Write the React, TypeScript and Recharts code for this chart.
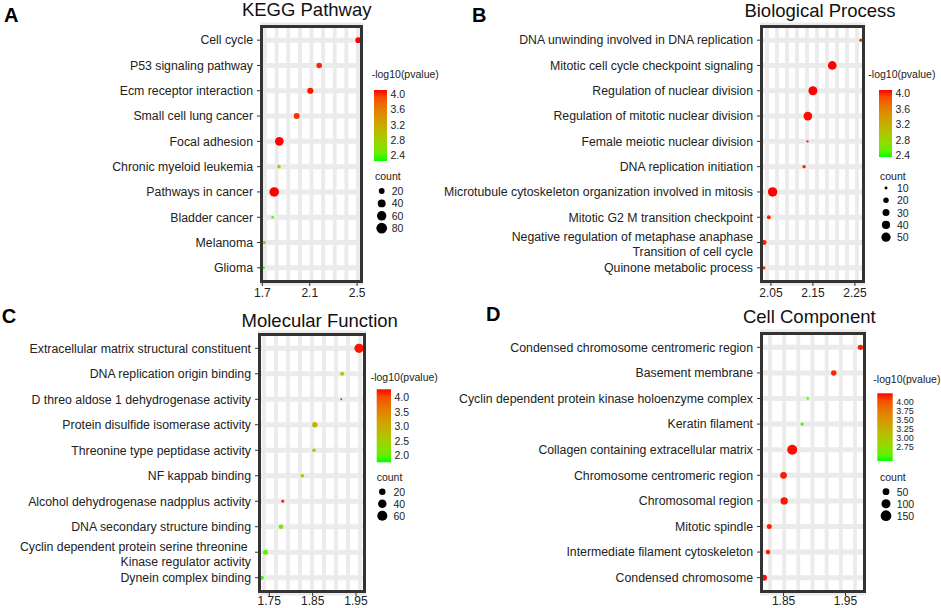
import { CartesianGrid, Scatter, ScatterChart, XAxis, YAxis } from 'recharts';

// ---------- data ----------
const keggTerms = [
    'Cell cycle',
    'P53 signaling pathway',
    'Ecm receptor interaction',
    'Small cell lung cancer',
    'Focal adhesion',
    'Chronic myeloid leukemia',
    'Pathways in cancer',
    'Bladder cancer',
    'Melanoma',
    'Glioma',
];
const keggScore = [2.51, 2.18, 2.105, 1.99, 1.843, 1.84, 1.8, 1.787, 1.716, 1.71];
const keggCount = [20, 18, 23, 21, 49, 7, 62, 4, 7, 5];
const keggLogP = [4.1, 4.05, 4.08, 4.02, 4.1, 2.75, 4.1, 2.35, 2.55, 2.4];
const keggXTicks = [1.7, 2.1, 2.5];
const keggColorTicks = [4.0, 3.6, 3.2, 2.8, 2.4];
const keggSizeBreaks = [20, 40, 60, 80];

const bpTerms = [
    'DNA unwinding involved in DNA replication',
    'Mitotic cell cycle checkpoint signaling',
    'Regulation of nuclear division',
    'Regulation of mitotic nuclear division',
    'Female meiotic nuclear division',
    'DNA replication initiation',
    'Microtubule cytoskeleton organization involved in mitosis',
    'Mitotic G2 M transition checkpoint',
    'Negative regulation of metaphase anaphase\nTransition of cell cycle',
    'Quinone metabolic process',
];
const bpScore = [2.264, 2.196, 2.15, 2.138, 2.137, 2.129, 2.054, 2.045, 2.034, 2.033];
const bpCount = [10, 45, 48, 45, 9, 11, 52, 13, 17, 11];
const bpLogP = [4.06, 4.09, 4.09, 4.08, 4.05, 4.06, 4.09, 4.05, 4.05, 4.04];
const bpXTicks = [2.05, 2.15, 2.25];
const bpColorTicks = [4.0, 3.6, 3.2, 2.8, 2.4];
const bpSizeBreaks = [10, 20, 30, 40, 50];

const mfTerms = [
    'Extracellular matrix structural constituent',
    'DNA replication origin binding',
    'D threo aldose 1 dehydrogenase activity',
    'Protein disulfide isomerase activity',
    'Threonine type peptidase activity',
    'NF kappab binding',
    'Alcohol dehydrogenase nadpplus activity',
    'DNA secondary structure binding',
    'Cyclin dependent protein serine threonine \nKinase regulator activity',
    'Dynein complex binding',
];
const mfScore = [1.957, 1.918, 1.916, 1.855, 1.853, 1.826, 1.781, 1.777, 1.741, 1.733];
const mfCount = [50, 5, 1, 12, 4, 4, 2, 8, 10, 5];
const mfLogP = [4.25, 2.5, 4.25, 2.95, 2.6, 2.55, 4.25, 2.15, 1.95, 1.8];
const mfXTicks = [1.75, 1.85, 1.95];
const mfColorTicks = [4.0, 3.5, 3.0, 2.5, 2.0];
const mfSizeBreaks = [20, 40, 60];

const ccTerms = [
    'Condensed chromosome centromeric region',
    'Basement membrane',
    'Cyclin dependent protein kinase holoenzyme complex',
    'Keratin filament',
    'Collagen containing extracellular matrix',
    'Chromosome centromeric region',
    'Chromosomal region',
    'Mitotic spindle',
    'Intermediate filament cytoskeleton',
    'Condensed chromosome',
];
const ccScore = [1.974, 1.931, 1.889, 1.88, 1.864, 1.85, 1.851, 1.827, 1.825, 1.8185];
const ccCount = [26, 28, 4, 7, 128, 47, 59, 22, 19, 36];
const ccLogP = [4.2, 4.18, 2.5, 2.45, 4.22, 4.2, 4.21, 4.2, 4.18, 4.22];
const ccXTicks = [1.85, 1.95];
const ccColorTicks = [4.0, 3.75, 3.5, 3.25, 3.0, 2.75];
const ccSizeBreaks = [50, 100, 150];

// ---------- colour / size scales (ggplot-like) ----------
const FONT = '"Liberation Sans", Arial, Helvetica, sans-serif';
const WHITE = [0.95047, 1, 1.08883];

const toLinear = (c: number) => {
    const v = c / 255;
    return v <= 0.04045 ? v / 12.92 : Math.pow((v + 0.055) / 1.055, 2.4);
};
const fromLinear = (c: number) => {
    const v = c <= 0.0031308 ? 12.92 * c : 1.055 * Math.pow(c, 1 / 2.4) - 0.055;
    return Math.round(Math.min(1, Math.max(0, v)) * 255);
};

function toLab([r, g, b]: number[]) {
    const R = toLinear(r), G = toLinear(g), B = toLinear(b);
    const X = 0.4124 * R + 0.3576 * G + 0.1805 * B;
    const Y = 0.2126 * R + 0.7152 * G + 0.0722 * B;
    const Z = 0.0193 * R + 0.1192 * G + 0.9505 * B;
    const f = (t: number) => (t > 216 / 24389 ? Math.cbrt(t) : ((24389 / 27) * t + 16) / 116);
    const fx = f(X / WHITE[0]), fy = f(Y / WHITE[1]), fz = f(Z / WHITE[2]);
    return [116 * fy - 16, 500 * (fx - fy), 200 * (fy - fz)];
}

function labToCss([L, a, b]: number[]) {
    const fy = (L + 16) / 116;
    const fx = fy + a / 500;
    const fz = fy - b / 200;
    const inv = (t: number) => (t ** 3 > 216 / 24389 ? t ** 3 : (116 * t - 16) / (24389 / 27));
    const X = inv(fx) * WHITE[0], Y = inv(fy) * WHITE[1], Z = inv(fz) * WHITE[2];
    const R = 3.2406 * X - 1.5372 * Y - 0.4986 * Z;
    const G = -0.9689 * X + 1.8758 * Y + 0.0415 * Z;
    const B = 0.0557 * X - 0.204 * Y + 1.057 * Z;
    return `rgb(${fromLinear(R)},${fromLinear(G)},${fromLinear(B)})`;
}

const LOW = toLab([0, 255, 0]);
const HIGH = toLab([255, 0, 0]);

function rampColor(t: number) {
    const k = Math.min(1, Math.max(0, t));
    return labToCss(LOW.map((v, i) => v + (HIGH[i] - v) * k));
}

interface SizeSpec { cmin: number; cmax: number; dmin: number; dk: number }

function radius(count: number, s: SizeSpec) {
    const t = Math.max(0, (count - s.cmin) / (s.cmax - s.cmin));
    return (s.dmin + s.dk * Math.sqrt(t)) / 2;
}

// ---------- panels ----------
interface PanelSpec {
    letter: string;
    title: string;
    terms: string[];
    score: number[];
    count: number[];
    logp: number[];
    xTicks: number[];
    xDigits: number;
    xDomain: [number, number];
    xTickMargin: number;
    colorDomain: [number, number];
    colorTicks: number[];
    colorDigits: number;
    colorFont: number;
    sizeBreaks: number[];
    size: SizeSpec;
    left: number;
    top: number;
    width: number;
    height: number;
    plot: { x0: number; x1: number; y0: number; y1: number };
    stripes: { n: number; inL: number; inR: number };
    letterPos: [number, number];
    titlePos: [number, number];
    legend: {
        titleX: number; titleY: number;
        barX: number; barY: number; barW: number; barH: number;
        countX: number; countY: number;
        dotX: number; dotY: number; dotStep: number; labelX: number;
    };
}

const panels: PanelSpec[] = [
    {
        letter: 'A', title: 'KEGG Pathway',
        terms: keggTerms, score: keggScore, count: keggCount, logp: keggLogP,
        xTicks: keggXTicks, xDigits: 1, xDomain: [1.68, 2.55], xTickMargin: 2,
        colorDomain: [2.25, 4.1], colorTicks: keggColorTicks, colorDigits: 1, colorFont: 10.5,
        sizeBreaks: keggSizeBreaks, size: { cmin: 3, cmax: 80, dmin: 1.5, dk: 9.2 },
        left: 0, top: 0, width: 470, height: 300,
        plot: { x0: 260, x1: 363, y0: 25, y1: 283 },
        stripes: { n: 9, inL: 5, inR: 5 },
        letterPos: [4, 21.7], titlePos: [306.7, 16],
        legend: {
            titleX: 371.7, titleY: 74, barX: 374, barY: 90, barW: 13, barH: 71,
            countX: 375, countY: 175.7, dotX: 381.7, dotY: 191, dotStep: 12.4, labelX: 391.7,
        },
    },
    {
        letter: 'B', title: 'Biological Process',
        terms: bpTerms, score: bpScore, count: bpCount, logp: bpLogP,
        xTicks: bpXTicks, xDigits: 2, xDomain: [2.024, 2.274], xTickMargin: 2,
        colorDomain: [2.35, 4.09], colorTicks: bpColorTicks, colorDigits: 1, colorFont: 10.5,
        sizeBreaks: bpSizeBreaks, size: { cmin: 8, cmax: 52, dmin: 1.2, dk: 8.2 },
        left: 470, top: 0, width: 471, height: 300,
        plot: { x0: 290, x1: 395, y0: 25, y1: 283 },
        stripes: { n: 10, inL: 7, inR: 8 },
        letterPos: [2, 21.7], titlePos: [350, 16.5],
        legend: {
            titleX: 398.3, titleY: 74, barX: 409, barY: 90, barW: 13, barH: 67,
            countX: 410, countY: 176, dotX: 416, dotY: 188, dotStep: 12.3, labelX: 427,
        },
    },
    {
        letter: 'C', title: 'Molecular Function',
        terms: mfTerms, score: mfScore, count: mfCount, logp: mfLogP,
        xTicks: mfXTicks, xDigits: 2, xDomain: [1.724, 1.973], xTickMargin: 0,
        colorDomain: [1.75, 4.28], colorTicks: mfColorTicks, colorDigits: 1, colorFont: 10.5,
        sizeBreaks: mfSizeBreaks, size: { cmin: 1, cmax: 62, dmin: 1.8, dk: 8.4 },
        left: 0, top: 300, width: 470, height: 308,
        plot: { x0: 258, x1: 366, y0: 33, y1: 293 },
        stripes: { n: 9, inL: 6, inR: 6 },
        letterPos: [1.7, 23.3], titlePos: [319.7, 26.7],
        legend: {
            titleX: 370.7, titleY: 76.7, barX: 376.7, barY: 89.3, barW: 14.3, barH: 73,
            countX: 376.7, countY: 177.3, dotX: 382.3, dotY: 191.7, dotStep: 12, labelX: 393.5,
        },
    },
    {
        letter: 'D', title: 'Cell Component',
        terms: ccTerms, score: ccScore, count: ccCount, logp: ccLogP,
        xTicks: ccXTicks, xDigits: 2, xDomain: [1.812, 1.983], xTickMargin: 0,
        colorDomain: [2.38, 4.23], colorTicks: ccColorTicks, colorDigits: 2, colorFont: 9,
        sizeBreaks: ccSizeBreaks, size: { cmin: 3, cmax: 160, dmin: 1.8, dk: 9.2 },
        left: 470, top: 300, width: 471, height: 308,
        plot: { x0: 290, x1: 396, y0: 32, y1: 293 },
        stripes: { n: 7, inL: 10, inR: 11 },
        letterPos: [16, 20.7], titlePos: [339.3, 23.3],
        legend: {
            titleX: 403.3, titleY: 79.3, barX: 407.3, barY: 93.3, barW: 15.4, barH: 67.7,
            countX: 410, countY: 177.3, dotX: 416, dotY: 191.7, dotStep: 12, labelX: 426.7,
        },
    },
];

function TermTick(props: any) {
    const { x, y, payload, terms } = props;
    const lines: string[] = (terms[payload.value - 1] ?? '').split('\n');
    const gap = 14.7;
    // two-line labels sit a touch lower than their row in the original
    const shift = lines.length > 1 ? 1.8 : 0;
    return (
        <text x={x} y={y} textAnchor="end" fill="#222" fontSize={12.3} style={{ whiteSpace: 'pre' }}>
            {lines.map((line, k) => (
                <tspan key={k} x={x} dy={k === 0 ? -((lines.length - 1) / 2) * gap + 4.3 + shift : gap}>
                    {line}
                </tspan>
            ))}
        </text>
    );
}

function PanelLegend({ spec }: { spec: PanelSpec }) {
    const L = spec.legend;
    const [vmin, vmax] = spec.colorDomain;
    const gid = `ramp-${spec.letter}`;
    const stops = Array.from({ length: 11 }, (_, i) => i / 10);
    return (
        <svg
            width={spec.width}
            height={spec.height}
            style={{ position: 'absolute', left: 0, top: 0, overflow: 'visible', pointerEvents: 'none' }}
            fontFamily={FONT}
        >
            <defs>
                <linearGradient id={gid} x1="0" y1="1" x2="0" y2="0">
                    {stops.map((t) => (
                        <stop key={t} offset={t} stopColor={rampColor(t)} />
                    ))}
                </linearGradient>
            </defs>
            <text x={spec.letterPos[0]} y={spec.letterPos[1]} fontSize={20} fontWeight="bold" fill="#000">
                {spec.letter}
            </text>
            <text x={spec.titlePos[0]} y={spec.titlePos[1]} fontSize={18.5} textAnchor="middle" fill="#111">
                {spec.title}
            </text>
            <text x={L.titleX} y={L.titleY} fontSize={10.5} dominantBaseline="central" fill="#222">
                -log10(pvalue)
            </text>
            <rect x={L.barX} y={L.barY} width={L.barW} height={L.barH} fill={`url(#${gid})`} />
            {spec.colorTicks.map((v) => (
                <text
                    key={v}
                    x={L.barX + L.barW + 3.5}
                    y={L.barY + ((vmax - v) / (vmax - vmin)) * L.barH}
                    fontSize={spec.colorFont}
                    dominantBaseline="central"
                    fill="#222"
                >
                    {v.toFixed(spec.colorDigits)}
                </text>
            ))}
            <text x={L.countX} y={L.countY} fontSize={10.5} dominantBaseline="central" fill="#222">
                count
            </text>
            {spec.sizeBreaks.map((c, k) => (
                <g key={c}>
                    <circle cx={L.dotX} cy={L.dotY + k * L.dotStep} r={radius(c, spec.size)} fill="#000" />
                    <text
                        x={L.labelX}
                        y={L.dotY + k * L.dotStep}
                        fontSize={10.5}
                        dominantBaseline="central"
                        fill="#222"
                    >
                        {c}
                    </text>
                </g>
            ))}
        </svg>
    );
}

function DotPanel({ spec }: { spec: PanelSpec }) {
    const { plot, stripes } = spec;
    const n = spec.terms.length;
    const [vmin, vmax] = spec.colorDomain;
    const data = spec.terms.map((term, i) => ({
        term,
        rank: i + 1,
        score: spec.score[i],
        count: spec.count[i],
        logp: spec.logp[i],
    }));
    const ranks = data.map((d) => d.rank);

    return (
        <div
            style={{
                position: 'absolute',
                left: spec.left,
                top: spec.top,
                width: spec.width,
                height: spec.height,
            }}
        >
            <ScatterChart
                width={spec.width}
                height={spec.height}
                margin={{ top: plot.y0, right: spec.width - plot.x1, bottom: 0, left: 0 }}
            >
                <CartesianGrid
                    horizontal={false}
                    stroke="#ebebeb"
                    strokeWidth={3.8}
                    verticalCoordinatesGenerator={({ offset }: any) => {
                        const span = offset.width - stripes.inL - stripes.inR;
                        return Array.from(
                            { length: stripes.n },
                            (_, i) => offset.left + stripes.inL + (i * span) / (stripes.n - 1),
                        );
                    }}
                />
                <CartesianGrid vertical={false} stroke="#ebebeb" strokeWidth={5} />
                <XAxis
                    type="number"
                    dataKey="score"
                    domain={spec.xDomain}
                    allowDataOverflow
                    ticks={spec.xTicks}
                    interval={0}
                    tickFormatter={(v: number) => v.toFixed(spec.xDigits)}
                    height={spec.height - plot.y1}
                    axisLine={false}
                    tickSize={3}
                    tickMargin={spec.xTickMargin}
                    tickLine={{ stroke: '#333' }}
                    tick={{ fill: '#222', fontSize: 12, fontFamily: FONT }}
                />
                <YAxis
                    type="number"
                    dataKey="rank"
                    domain={[0.4, n + 0.6]}
                    allowDataOverflow
                    reversed
                    ticks={ranks}
                    interval={0}
                    width={plot.x0}
                    axisLine={false}
                    tickSize={3}
                    tickMargin={4}
                    tickLine={{ stroke: '#333' }}
                    tick={(props: any) => <TermTick {...props} terms={spec.terms} />}
                />
                <Scatter
                    data={data}
                    isAnimationActive={false}
                    shape={(p: any) => (
                        <circle
                            cx={p.cx}
                            cy={p.cy}
                            r={radius(p.payload.count, spec.size)}
                            fill={rampColor((p.payload.logp - vmin) / (vmax - vmin))}
                        />
                    )}
                />
            </ScatterChart>
            <div
                style={{
                    position: 'absolute',
                    left: plot.x0,
                    top: plot.y0,
                    width: plot.x1 - plot.x0,
                    height: plot.y1 - plot.y0,
                    border: '3px solid #333',
                    boxSizing: 'border-box',
                    pointerEvents: 'none',
                }}
            />
            <PanelLegend spec={spec} />
        </div>
    );
}

export default function App() {
    return (
        <div
            style={{
                position: 'relative',
                width: 941,
                height: 608,
                background: '#fff',
                fontFamily: FONT,
                overflow: 'hidden',
            }}
        >
            <style>{'body{margin:0} svg{overflow:visible}'}</style>
            {panels.map((p) => (
                <DotPanel key={p.letter} spec={p} />
            ))}
        </div>
    );
}
